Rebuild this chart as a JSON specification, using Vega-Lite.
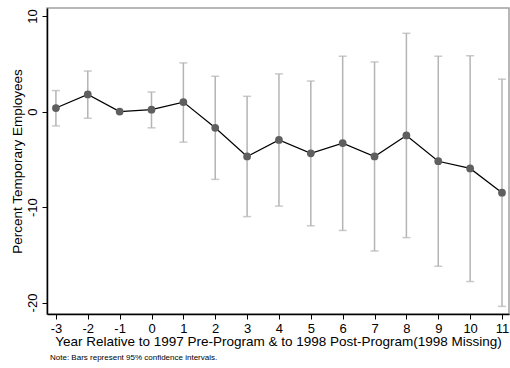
{
  "$schema": "https://vega.github.io/schema/vega-lite/v6.json",
  "width": 462,
  "height": 306,
  "autosize": {"type": "none"},
  "padding": {"left": 47, "top": 8, "right": 1, "bottom": 54},
  "background": "white",
  "config": {
    "font": "Liberation Sans",
    "view": {"stroke": "#a0a0a0", "strokeWidth": 1.5},
    "axis": {"grid": false, "domainColor": "black", "domainWidth": 1.5, "tickColor": "black", "tickWidth": 1, "labelColor": "black", "titleColor": "black", "labelFontWeight": "normal", "titleFontWeight": "normal"}
  },
  "title": {
    "text": "Note: Bars represent 95% confidence intervals.",
    "orient": "bottom",
    "anchor": "start",
    "frame": "group",
    "fontSize": 8,
    "fontWeight": "normal",
    "color": "black",
    "offset": 6,
    "dx": 3
  },
  "data": {
    "values": [
      {"year": -3, "est": 0.37, "lo": -1.5, "hi": 2.2},
      {"year": -2, "est": 1.8, "lo": -0.7, "hi": 4.25},
      {"year": -1, "est": 0.0, "lo": null, "hi": null},
      {"year": 0, "est": 0.2, "lo": -1.7, "hi": 2.05},
      {"year": 1, "est": 1.0, "lo": -3.2, "hi": 5.1},
      {"year": 2, "est": -1.7, "lo": -7.1, "hi": 3.7},
      {"year": 3, "est": -4.7, "lo": -11.0, "hi": 1.6},
      {"year": 4, "est": -2.97, "lo": -9.9, "hi": 3.95},
      {"year": 5, "est": -4.37, "lo": -11.96, "hi": 3.2},
      {"year": 6, "est": -3.3, "lo": -12.45, "hi": 5.8},
      {"year": 7, "est": -4.7, "lo": -14.6, "hi": 5.2},
      {"year": 8, "est": -2.5, "lo": -13.2, "hi": 8.2},
      {"year": 9, "est": -5.2, "lo": -16.2, "hi": 5.8},
      {"year": 10, "est": -5.95, "lo": -17.8, "hi": 5.85},
      {"year": 11, "est": -8.5, "lo": -20.4, "hi": 3.4}
    ]
  },
  "encoding": {
    "x": {
      "field": "year", "type": "quantitative",
      "scale": {"domain": [-3.28, 11.22], "nice": false, "zero": false},
      "axis": {
        "values": [-3, -2, -1, 0, 1, 2, 3, 4, 5, 6, 7, 8, 9, 10, 11],
        "labelExpr": "datum.value + ''",
        "title": "Year Relative to 1997 Pre-Program & to 1998 Post-Program(1998 Missing)",
        "labelFontSize": 13, "titleFontSize": 13.5, "tickSize": 5, "labelPadding": 3, "titlePadding": -1,
        "labelFlush": false, "labelOverlap": false
      }
    }
  },
  "layer": [
    {
      "mark": {"type": "rule", "color": "#b4b4b4", "strokeWidth": 1.5},
      "encoding": {
        "y": {"field": "lo", "type": "quantitative"},
        "y2": {"field": "hi"}
      }
    },
    {
      "mark": {"type": "tick", "color": "#b4b4b4", "thickness": 1.5, "size": 8, "orient": "horizontal"},
      "encoding": {"y": {"field": "lo", "type": "quantitative"}}
    },
    {
      "mark": {"type": "tick", "color": "#b4b4b4", "thickness": 1.5, "size": 8, "orient": "horizontal"},
      "encoding": {"y": {"field": "hi", "type": "quantitative"}}
    },
    {
      "mark": {"type": "line", "color": "black", "strokeWidth": 1.2},
      "encoding": {"y": {"field": "est", "type": "quantitative"}}
    },
    {
      "mark": {"type": "point", "shape": "circle", "filled": true, "color": "#5f5f5f", "opacity": 1, "size": 60},
      "encoding": {
        "y": {
          "field": "est", "type": "quantitative",
          "scale": {"domain": [-21.2, 10.85], "nice": false, "zero": false},
          "axis": {
            "values": [10, 0, -10, -20],
            "labelExpr": "datum.value + ''",
            "title": "Percent Temporary Employees",
            "labelFontSize": 13, "titleFontSize": 13.5, "tickSize": 5, "labelAngle": -90, "labelPadding": 10,
            "labelAlign": "center", "labelBaseline": "middle", "titlePadding": 2
          }
        }
      }
    }
  ]
}
